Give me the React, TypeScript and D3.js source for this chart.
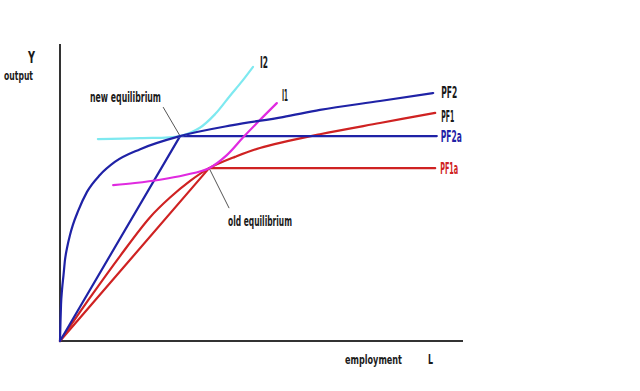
import * as d3 from "d3";
import { useEffect, useRef } from "react";

type Pt = [number, number];

// employment (x) / output (y) in 0..100 units
const pf2Curve: Pt[] = [
  [0, 0], [0.12, 6.4], [0.25, 12.1], [0.5, 17.2], [0.87, 22.2], [1.24, 27.3],
  [1.74, 31.3], [2.48, 35.7], [3.2, 39.1], [4.5, 43.8], [6.7, 50.2], [9.9, 55.9],
  [13.6, 60.3], [19.9, 64.6], [29.8, 69.0], [42.9, 72.7], [55.3, 75.4],
  [64.5, 77.8], [79.4, 80.8], [92.6, 83.5],
];
const pf1Curve: Pt[] = [
  [0, 0], [7.4, 14.5], [14.9, 28.6], [22.3, 41.6], [27.3, 48.3], [32.3, 53.9],
  [37.0, 58.2], [43.4, 62.0], [49.6, 65.0], [64.5, 69.6], [79.4, 73.4], [93.1, 76.8],
];
const i1Curve: Pt[] = [
  [13.2, 52.5], [18.6, 53.2], [24.8, 54.3], [31.0, 55.9], [37.0, 58.2],
  [41.4, 62.6], [45.4, 68.5], [49.6, 74.4], [53.8, 80.1],
];
const i2Curve: Pt[] = [
  [9.4, 68.0], [19.9, 68.3], [29.8, 69.0], [34.7, 71.8], [38.5, 76.4],
  [42.2, 82.6], [45.2, 87.5], [47.9, 92.3],
];
const newEq: Pt = [29.8, 69.0];
const oldEq: Pt = [37.0, 58.2];
const pf2aEnd = 93.5;
const pf1aEnd = 93.1;

const blue = "#1f22a6";
const red = "#cf2222";
const magenta = "#e02ae0";
const cyan = "#7ee9f0";
const ink = "#1a1a1a";
const font = "'Liberation Sans Narrow', 'DejaVu Sans Condensed', sans-serif";

export default function App() {
  const svgRef = useRef<SVGSVGElement>(null);
  const width = 640;
  const height = 391;

  useEffect(() => {
    const svg = d3.select(svgRef.current);
    svg.selectAll("*").remove();

    const x = d3.scaleLinear().domain([0, 100]).range([60, 463]);
    const y = d3.scaleLinear().domain([0, 100]).range([341, 44]);

    svg.append("rect").attr("width", width).attr("height", height).attr("fill", "#fff");

    const smooth = d3
      .line<Pt>()
      .x((d) => x(d[0]))
      .y((d) => y(d[1]))
      .curve(d3.curveCatmullRom.alpha(0.5));
    const monotone = d3
      .line<Pt>()
      .x((d) => x(d[0]))
      .y((d) => y(d[1]))
      .curve(d3.curveMonotoneX);
    const straight = d3
      .line<Pt>()
      .x((d) => x(d[0]))
      .y((d) => y(d[1]));

    // axes
    svg.append("path")
      .attr("d", straight([[0, 100], [0, 0], [100, 0]]))
      .attr("fill", "none").attr("stroke", "#333").attr("stroke-width", 2);

    // leader lines
    svg.append("line")
      .attr("x1", x(newEq[0]) - 17).attr("y1", y(newEq[1]) - 29)
      .attr("x2", x(newEq[0])).attr("y2", y(newEq[1]))
      .attr("stroke", "#555").attr("stroke-width", 1);
    svg.append("line")
      .attr("x1", x(oldEq[0])).attr("y1", y(oldEq[1]))
      .attr("x2", x(oldEq[0]) + 20).attr("y2", y(oldEq[1]) + 40)
      .attr("stroke", "#555").attr("stroke-width", 1);

    const draw = (d: string | null, color: string) =>
      svg.append("path").attr("d", d).attr("fill", "none")
        .attr("stroke", color).attr("stroke-width", 2.2)
        .attr("stroke-linejoin", "round").attr("stroke-linecap", "round");

    draw(straight([[0, 0], oldEq, [pf1aEnd, oldEq[1]]]), red);
    draw(smooth(pf1Curve), red);
    draw(straight([[0, 0], newEq, [pf2aEnd, newEq[1]]]), blue);
    draw(smooth(i2Curve), cyan);
    draw(smooth(i1Curve), magenta);
    draw(monotone(pf2Curve), blue);

    const label = (
      t: string, px: number, py: number, size: number, len: number | null, color = ink
    ) => {
      const el = svg.append("text").text(t).attr("x", px).attr("y", py)
        .attr("font-family", font).attr("font-size", size).attr("fill", color)
        .attr("font-weight", "bold");
      if (len) el.attr("textLength", len).attr("lengthAdjust", "spacingAndGlyphs");
      return el;
    };

    label("Y", 28, 63, 15, 7);
    label("output", 4, 80, 13, 29);
    label("new equilibrium", 90, 102, 14, 71);
    label("old equilibrium", 228, 226, 14, 64);
    label("employment", 345, 364, 12.5, 57);
    label("L", 428, 364, 14, 5);
    label("I2", 260, 68, 15, 8);
    label("I1", 282, 101, 15, 6);

    const last = (a: Pt[]) => a[a.length - 1];
    label("PF2", x(last(pf2Curve)[0]) + 8, y(last(pf2Curve)[1]) + 5, 16, 16);
    label("PF1", x(last(pf1Curve)[0]) + 6, y(last(pf1Curve)[1]) + 9, 16, 13);
    label("PF2a", x(pf2aEnd) + 4, y(newEq[1]) + 6, 16, 21, blue);
    label("PF1a", x(pf1aEnd) + 5, y(oldEq[1]) + 6, 16, 18, red);
  }, []);

  return (
    <svg
      ref={svgRef}
      width={width}
      height={height}
      style={{ position: "absolute", left: 0, top: 0 }}
    />
  );
}
